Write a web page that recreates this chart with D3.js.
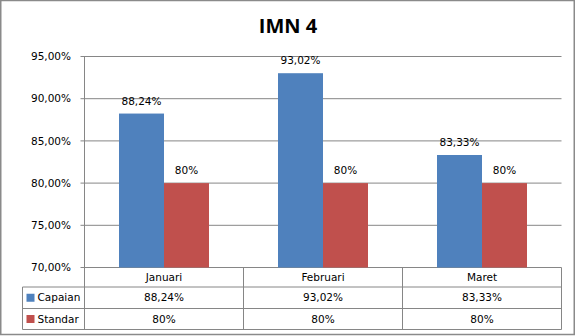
<!DOCTYPE html>
<html><head><meta charset="utf-8">
<script src="https://cdn.jsdelivr.net/npm/d3@7"></script>
<style>html,body{margin:0;padding:0;background:#fff;}svg{display:block;}</style>
</head><body>
<script>
const categories = ["Januari", "Februari", "Maret"];
const seriesNames = ["Capaian", "Standar"];
const capaian = [88.24, 93.02, 83.33];
const standar = [80, 80, 80];
const capaianLabels = ["88,24%", "93,02%", "83,33%"];
const standarLabels = ["80%", "80%", "80%"];
const yTicks = [70, 75, 80, 85, 90, 95];
const yTickLabels = ["70,00%", "75,00%", "80,00%", "85,00%", "90,00%", "95,00%"];
const colors = ["#4F81BD", "#C0504D"];

const W = 576, H = 336;
const font = "'DejaVu Sans', Verdana, sans-serif";
const fs = 10.5;
const grid = "#868686";
const svg = d3.select("body").append("svg").attr("width", W).attr("height", H);

svg.append("rect").attr("x", 0.75).attr("y", 0.5).attr("width", 573.5).attr("height", 334)
  .attr("fill", "#fff").attr("stroke", "#8a8a8a").attr("stroke-width", 1.5);

svg.append("text").attr("x", 288).attr("y", 33).attr("text-anchor", "middle")
  .attr("font-family", "'Open Sans', 'Liberation Sans', sans-serif").attr("font-weight", "bold")
  .attr("font-size", 20).attr("fill", "#000").text("IMN 4");

const left = 84.5, right = 561.5;
const y = d3.scaleLinear().domain([70, 95]).range([267.5, 56.5]);
const x = d3.scaleBand().domain(categories).range([left, right]).paddingInner(0).paddingOuter(0);
const xs = d3.scaleBand().domain(seriesNames).range([0, 90]);

// gridlines
svg.append("g").selectAll("line").data(yTicks).join("line")
  .attr("x1", left - 4).attr("x2", right).attr("y1", d => y(d)).attr("y2", d => y(d))
  .attr("stroke", grid).attr("stroke-width", 1);
svg.append("line").attr("x1", left).attr("x2", left).attr("y1", y(95)).attr("y2", y(70))
  .attr("stroke", grid);

svg.append("g").selectAll("text").data(yTicks).join("text")
  .attr("x", 71).attr("y", d => y(d)).attr("dy", "0.35em").attr("text-anchor", "end")
  .attr("font-family", font).attr("font-size", fs).attr("fill", "#000")
  .text((d, i) => yTickLabels[i]);

const series = [
  {name: seriesNames[0], values: capaian, labels: capaianLabels, color: colors[0]},
  {name: seriesNames[1], values: standar, labels: standarLabels, color: colors[1]}
];
const groupOffset = (x.bandwidth() - 90) / 2;
series.forEach(s => {
  const g = svg.append("g");
  g.selectAll("rect").data(categories).join("rect")
    .attr("x", (c) => x(c) + groupOffset + xs(s.name))
    .attr("width", xs.bandwidth())
    .attr("y", (c, i) => y(s.values[i]))
    .attr("height", (c, i) => y(70) - y(s.values[i]))
    .attr("fill", s.color);
  g.selectAll("text").data(categories).join("text")
    .attr("x", (c) => x(c) + groupOffset + xs(s.name) + xs.bandwidth() / 2)
    .attr("y", (c, i) => y(s.values[i]) - 9)
    .attr("text-anchor", "middle").attr("font-family", font).attr("font-size", fs).attr("fill", "#000")
    .text((c, i) => s.labels[i]);
});

// data table
const rowY = [267.5, 287, 308.5, 329.5];
const tbl = svg.append("g").attr("stroke", grid).attr("stroke-width", 1).attr("fill", "none");
tbl.append("line").attr("x1", 22.5).attr("x2", right).attr("y1", rowY[1]).attr("y2", rowY[1]);
tbl.append("line").attr("x1", 22.5).attr("x2", right).attr("y1", rowY[2]).attr("y2", rowY[2]);
tbl.append("line").attr("x1", 22.5).attr("x2", right).attr("y1", rowY[3]).attr("y2", rowY[3]);
tbl.append("line").attr("x1", 22.5).attr("x2", 22.5).attr("y1", rowY[1]).attr("y2", rowY[3]);
tbl.append("line").attr("x1", left).attr("x2", left).attr("y1", rowY[0]).attr("y2", rowY[3]);
categories.forEach(c => {
  tbl.append("line").attr("x1", x(c) + x.bandwidth()).attr("x2", x(c) + x.bandwidth())
    .attr("y1", rowY[0]).attr("y2", rowY[3]);
});

svg.append("g").selectAll("text").data(categories).join("text")
  .attr("x", c => x(c) + x.bandwidth() / 2).attr("y", (rowY[0] + rowY[1]) / 2).attr("dy", "0.35em")
  .attr("text-anchor", "middle").attr("font-family", font).attr("font-size", fs).attr("fill", "#000")
  .text(c => c);

series.forEach((s, si) => {
  const cy = (rowY[si + 1] + rowY[si + 2]) / 2;
  svg.append("rect").attr("x", 26.5).attr("y", cy - 4).attr("width", 8).attr("height", 8).attr("fill", s.color);
  svg.append("text").attr("x", 37.5).attr("y", cy).attr("dy", "0.35em")
    .attr("font-family", font).attr("font-size", fs).attr("fill", "#000").text(s.name);
  svg.append("g").selectAll("text").data(categories).join("text")
    .attr("x", c => x(c) + x.bandwidth() / 2).attr("y", cy).attr("dy", "0.35em")
    .attr("text-anchor", "middle").attr("font-family", font).attr("font-size", fs).attr("fill", "#000")
    .text((c, i) => s.labels[i]);
});
</script>
</body></html>
